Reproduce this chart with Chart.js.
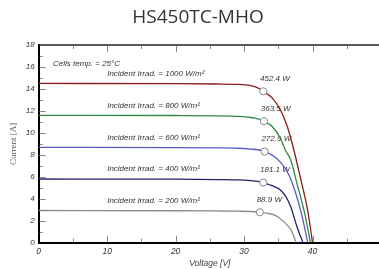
<!DOCTYPE html>
<html>
<head>
<meta charset="utf-8">
<script src="https://cdn.jsdelivr.net/npm/chart.js@4.4.0/dist/chart.umd.min.js"></script>
<style>
  html, body { margin: 0; padding: 0; background: #fff; overflow: hidden; }
  #wrap { width: 386px; height: 269px; position: relative; }
  canvas { display: block; }
</style>
</head>
<body>
<div id="wrap"><canvas id="chart" width="386" height="269" style="width:386px;height:269px"></canvas></div>
<script>
// I-V curves (voltage V, current A)
const irradiance = [1000, 800, 600, 400, 200]
const curveColors = ['#8b1c1c', '#2e8b3e', '#5a5ac8', '#23236e', '#8c8c8c']

const v1000 = [0, 20, 26, 29, 31, 32, 32.8, 33.6, 34.1, 35.3, 36.3, 37.0, 37.6, 38.5, 39.3, 40]
const i1000 = [14.5, 14.48, 14.45, 14.42, 14.3, 14.1, 13.78, 13.45, 13.18, 12.1, 10.6, 9.1, 7.6, 5.2, 2.9, 0]

const v800 = [0, 20, 26, 29, 31, 32, 32.9, 33.5, 34.1, 35.3, 36.0, 36.8, 37.8, 38.8, 39.7]
const i800 = [11.6, 11.58, 11.55, 11.5, 11.4, 11.28, 11.07, 10.85, 10.58, 9.53, 8.46, 7.55, 5.2, 2.8, 0]

const v600 = [0, 20, 26, 29, 31, 32.2, 33.0, 33.7, 34.4, 35.2, 35.9, 36.6, 37.5, 38.4, 39.3]
const i600 = [8.68, 8.66, 8.63, 8.6, 8.52, 8.44, 8.3, 8.1, 7.85, 7.4, 6.85, 6.1, 4.6, 2.6, 0]

const v400 = [0, 20, 26, 29, 31, 32, 32.8, 33.6, 34.5, 35.3, 36.1, 36.8, 37.7, 38.6]
const i400 = [5.8, 5.78, 5.75, 5.72, 5.65, 5.58, 5.47, 5.3, 5.08, 4.8, 4.2, 3.3, 1.5, 0]

const v200 = [0, 20, 26, 29, 31, 32.3, 33.4, 34.4, 35.1, 35.8, 36.5, 37.0, 37.6]
const i200 = [2.93, 2.91, 2.89, 2.87, 2.84, 2.77, 2.68, 2.53, 2.27, 1.92, 1.45, 1.0, 0]

// maximum power points
const mppVoltage = [32.8, 32.9, 33.0, 32.8, 32.3]
const mppCurrent = [13.78, 11.07, 8.3, 5.47, 2.77]
const mppLabels = ['452.4 W', '363.5 W', '272.9 W', '181.1 W', '88.9 W']

const xTicks = [0, 10, 20, 30, 40]
const yTicks = [0, 2, 4, 6, 8, 10, 12, 14, 16, 18]

const curveV = [v1000, v800, v600, v400, v200]
const curveI = [i1000, i800, i600, i400, i200]

const italic = '"Liberation Sans", Arial, sans-serif'

const decor = {
  id: 'decor',
  beforeDatasetsDraw(chart) {
    const ctx = chart.ctx
    const x = chart.scales.x
    const y = chart.scales.y
    ctx.save()
    ctx.fillStyle = '#333'
    ctx.font = 'italic 8px ' + italic
    ctx.textBaseline = 'middle'
    ctx.textAlign = 'left'
    ctx.fillText('Cells temp. = 25°C', 53, 63.5)
    irradiance.forEach((g, k) => {
      ctx.fillText('Incident Irrad. = ' + g + ' W/m²', x.getPixelForValue(10), y.getPixelForValue(curveI[k][0]) - 10)
    })
    mppLabels.forEach((t, k) => {
      ctx.fillText(t, x.getPixelForValue(mppVoltage[k]) - 3.2, y.getPixelForValue(mppCurrent[k]) - 12.7)
    })
    ctx.restore()
  },
  afterDraw(chart) {
    const ctx = chart.ctx
    const a = chart.chartArea
    const x = chart.scales.x
    const y = chart.scales.y
    ctx.save()
    // inner tick marks
    ctx.strokeStyle = '#888'
    ctx.lineWidth = 1
    ctx.beginPath()
    for (let v = 5; v <= 50; v += 5) {
      const px = Math.round(x.getPixelForValue(v)) + 0.5
      const len = v % 10 === 0 ? 6 : 3
      ctx.moveTo(px, a.bottom - 1)
      ctx.lineTo(px, a.bottom - 1 - len)
      ctx.moveTo(px, a.top + 1)
      ctx.lineTo(px, a.top + 1 + len)
    }
    for (let v = 1; v < 18; v++) {
      const py = Math.round(y.getPixelForValue(v)) + 0.5
      const len = v % 2 === 0 ? 6 : 3
      ctx.moveTo(a.left + 1, py)
      ctx.lineTo(a.left + 1 + len, py)
    }
    ctx.stroke()
    // top frame line
    ctx.strokeStyle = '#222'
    ctx.lineWidth = 1.5
    ctx.beginPath()
    ctx.moveTo(a.left, a.top)
    ctx.lineTo(a.right, a.top)
    ctx.stroke()
    // title
    ctx.fillStyle = '#333'
    ctx.font = '19px "Open Sans", sans-serif'
    ctx.textAlign = 'center'
    ctx.textBaseline = 'middle'
    ctx.fillText('HS450TC-MHO', 198, 18)
    ctx.restore()
  }
}

const datasets = [{
  label: 'MPP',
  data: mppVoltage.map((v, k) => ({ x: v, y: mppCurrent[k] })),
  pointRadius: 3.6,
  pointBackgroundColor: '#fff',
  pointBorderColor: '#888',
  pointBorderWidth: 1,
  showLine: false,
  order: 0
}]
irradiance.forEach((g, k) => {
  datasets.push({
    label: g + ' W/m²',
    data: curveV[k].map((v, n) => ({ x: v, y: curveI[k][n] })),
    borderColor: curveColors[k],
    borderWidth: 1.3,
    pointRadius: 0,
    showLine: true,
    cubicInterpolationMode: 'monotone',
    order: 1
  })
})

new Chart(document.getElementById('chart'), {
  type: 'scatter',
  data: { datasets: datasets },
  options: {
    responsive: false,
    animation: false,
    layout: { padding: { top: 45, right: 1, left: 0, bottom: 0 } },
    plugins: { legend: { display: false }, tooltip: { enabled: false } },
    scales: {
      x: {
        min: 0,
        max: 50,
        afterBuildTicks: s => { s.ticks = xTicks.map(v => ({ value: v })) },
        afterFit: s => { s.height = 26.3 },
        grid: { display: false, drawTicks: false },
        border: { display: true, color: '#000', width: 2 },
        ticks: { padding: 4, color: '#333', font: { family: italic, size: 8.5, style: 'italic' }, maxRotation: 0 },
        title: { display: true, text: 'Voltage [V]', color: '#444', padding: { top: 0, bottom: 0 }, font: { family: italic, size: 8.5, style: 'italic' } }
      },
      y: {
        min: 0,
        max: 18,
        afterBuildTicks: s => { s.ticks = yTicks.map(v => ({ value: v })) },
        afterFit: s => { s.width = 38.7 },
        grid: { display: false, drawTicks: false },
        border: { display: true, color: '#000', width: 2 },
        ticks: { padding: 4, color: '#333', font: { family: italic, size: 8, style: 'italic' } },
        title: { display: true, text: 'Current [A]', color: '#555', padding: { top: 8, bottom: 0 }, font: { family: '"Liberation Serif", serif', size: 9 } }
      }
    }
  },
  plugins: [decor]
})
</script>
</body>
</html>
